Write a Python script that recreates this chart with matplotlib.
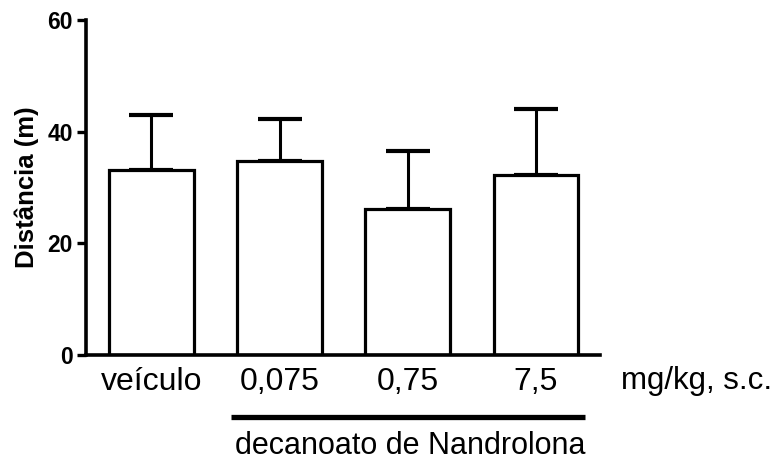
import matplotlib
matplotlib.use("Agg")
import matplotlib.pyplot as plt

grupos = ["veículo", "0,075", "0,75", "7,5"]
medias = [33.1, 34.8, 26.2, 32.3]
erros = [9.9, 7.5, 10.4, 11.8]
yticks = [0, 20, 40, 60]

plt.rcParams['font.family'] = ['Liberation Sans', 'DejaVu Sans']

fig = plt.figure(figsize=(7.76, 4.63), dpi=100)
ax = fig.add_axes([0.1108, 0.2333, 0.6624, 0.7235])

x = list(range(len(grupos)))
ax.bar(x, medias, width=0.66, color='white', edgecolor='black', linewidth=2.3, zorder=2)
ax.errorbar(x, medias, yerr=[[0] * len(erros), erros], fmt='none', ecolor='black',
            elinewidth=2.2, capsize=15.5, capthick=3.0, zorder=1)

ax.set_xlim(-0.51, 3.5)
ax.set_ylim(0, 60)
ax.set_yticks(yticks)
ax.set_yticklabels([str(t) for t in yticks], fontsize=16.5, fontweight='bold')
ax.set_xticks(x)
ax.set_xticklabels(grupos, fontsize=23)
ax.tick_params(axis='x', length=0, pad=8.5)
ax.tick_params(axis='y', length=6.5, width=2.4, pad=3)
ax.set_ylabel("Distância (m)", fontsize=18.5, fontweight='bold', labelpad=6)

for s in ['top', 'right']:
    ax.spines[s].set_visible(False)
for s in ['left', 'bottom']:
    ax.spines[s].set_linewidth(2.6)

ax.text(4.25, -6.1, "mg/kg, s.c.", fontsize=22.5, ha='center', va='baseline', clip_on=False)
ax.plot([0.62, 3.38], [-11.1, -11.1], color='black', linewidth=3.8, clip_on=False,
        solid_capstyle='butt')
ax.text(2.02, -17.8, "decanoato de Nandrolona", fontsize=22, ha='center', va='baseline',
        clip_on=False)

fig.savefig("out.png", dpi=100)
